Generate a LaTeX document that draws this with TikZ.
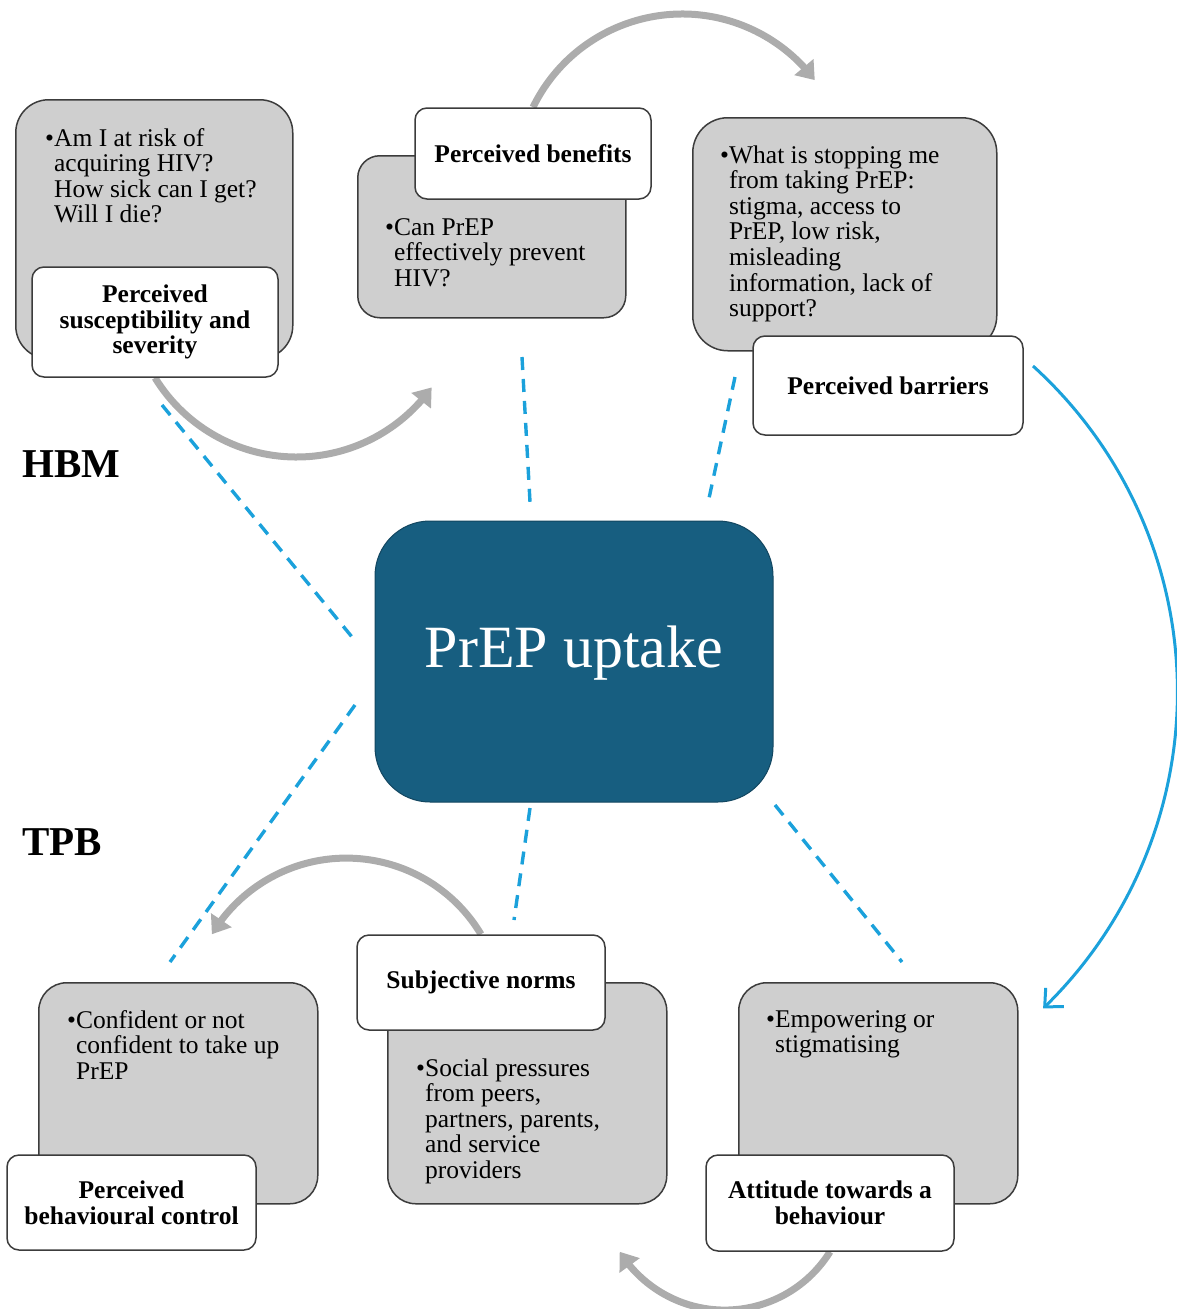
\documentclass[tikz,border=0pt]{standalone}
\usepackage{fontspec}
\setmainfont{Liberation Serif}
\usetikzlibrary{arrows.meta,bending,backgrounds}

\definecolor{boxgray}{RGB}{207,207,207}
\definecolor{edgegray}{RGB}{60,60,60}
\definecolor{hubblue}{RGB}{23,94,128}
\definecolor{hubedge}{RGB}{18,70,96}
\definecolor{linkblue}{RGB}{27,161,219}
\definecolor{flowgray}{RGB}{172,172,172}

% bullet item with hanging indent
\newcommand\bulletlines[1]{\begin{tabular}[t]{@{}l@{}l@{}}#1\end{tabular}}
\newcommand\bodysize{\fontsize{25.5}{25.6}\selectfont}

\begin{document}
\begin{tikzpicture}[x=1pt,y=1pt,
  panel/.style={draw=edgegray, line width=1.5pt, fill=boxgray,
    rounded corners=#1, inner sep=0pt, anchor=north west},
  tag/.style={draw=edgegray, line width=1.5pt, fill=white,
    rounded corners=12pt, inner sep=0pt, align=center,
    font=\bfseries\bodysize},
  itemtext/.style={anchor=base west, inner sep=0pt, font=\bodysize},
  heading/.style={anchor=base west, inner sep=0pt,
    font=\bfseries\fontsize{41}{41}\selectfont},
  spoke/.style={draw=linkblue, line width=3.4pt, dash pattern=on 13pt off 9pt},
  flow/.style={draw=flowgray, line width=7pt,
    -{Triangle[length=17pt,width=24pt,flex]}},
  cyclearrow/.style={draw=linkblue, line width=3pt,
    -{Straight Barb[length=14pt,width=26pt,line width=3pt,flex]}}
]
\useasboundingbox (0,0) rectangle (1176,-1309);

% ---------- central hub ----------
\node[draw=hubedge, line width=1pt, fill=hubblue, rounded corners=55pt,
  minimum width=398pt, minimum height=281pt, text depth=30pt,
  text=white, font=\fontsize{60}{60}\selectfont] (hub) at (574,-661.5) {PrEP uptake};

% ---------- HBM constructs ----------
\node[panel=33pt, minimum width=277pt, minimum height=259pt] (g1) at (15,-99) {};
\node[itemtext] (t1) at (45,-146) {\bulletlines{\textbullet & Am I at risk of\\
  & acquiring HIV?\\ & How sick can I get?\\ & Will I die?}};
\node[tag, minimum width=246pt, minimum height=110pt] (l1) at (155,-322)
  {Perceived\\susceptibility and\\severity};

\node[panel=22pt, minimum width=268pt, minimum height=162pt] (g2) at (357,-155) {};
\node[itemtext] (t2) at (385,-235) {\bulletlines{\textbullet & Can PrEP\\
  & effectively prevent\\ & HIV?}};
\node[tag, minimum width=236pt, minimum height=91pt] (l2) at (533,-153.5)
  {Perceived benefits};

\node[panel=35pt, minimum width=304pt, minimum height=233pt] (g3) at (692,-117) {};
\node[itemtext] (t3) at (720,-163) {\bulletlines{\textbullet & What is stopping me\\
  & from taking PrEP:\\ & stigma, access to\\ & PrEP, low risk,\\
  & misleading\\ & information, lack of\\ & support?}};
\node[tag, minimum width=270pt, minimum height=99pt] (l3) at (888,-385.5)
  {Perceived barriers};

% ---------- TPB constructs ----------
\node[panel=28pt, minimum width=279pt, minimum height=221pt] (g4) at (38,-982) {};
\node[itemtext] (t4) at (67,-1028) {\bulletlines{\textbullet & Confident or not\\
  & confident to take up\\ & PrEP}};
\node[tag, minimum width=249pt, minimum height=95pt] (l4) at (131.5,-1202.5)
  {Perceived\\behavioural control};

\node[panel=28pt, minimum width=279pt, minimum height=221pt] (g5) at (387,-982) {};
\node[itemtext] (t5) at (416,-1076) {\bulletlines{\textbullet & Social pressures\\
  & from peers,\\ & partners, parents,\\ & and service\\ & providers}};
\node[tag, minimum width=248pt, minimum height=95pt] (l5) at (481,-982.5)
  {Subjective norms};

\node[panel=28pt, minimum width=279pt, minimum height=221pt] (g6) at (738,-982) {};
\node[itemtext] (t6) at (766,-1027) {\bulletlines{\textbullet & Empowering or\\
  & stigmatising}};
\node[tag, minimum width=248pt, minimum height=96pt] (l6) at (830,-1203)
  {Attitude towards a\\behaviour};

% ---------- model headings ----------
\node[heading] (hbm) at (22,-477) {HBM};
\node[heading] (tpb) at (22,-855) {TPB};

% ---------- connectors ----------
\coordinate (s1a) at (162,-405);  \coordinate (s1b) at (352,-637);
\coordinate (s2a) at (522,-357);  \coordinate (s2b) at (530,-502);
\coordinate (s3a) at (735,-377);  \coordinate (s3b) at (708,-503);
\coordinate (s4a) at (355,-705);  \coordinate (s4b) at (170,-962);
\coordinate (s5a) at (530,-808);  \coordinate (s5b) at (514,-920);
\coordinate (s6a) at (775,-805);  \coordinate (s6b) at (902,-962);
\coordinate (cyc) at (1033,-366);

\begin{scope}[on background layer]
  \draw[spoke] (s1a) -- (s1b);
  \draw[spoke] (s2a) -- (s2b);
  \draw[spoke] (s3a) -- (s3b);
  \draw[spoke] (s4a) -- (s4b);
  \draw[spoke] (s5a) -- (s5b);
  \draw[spoke] (s6a) -- (s6b);

  \draw[flow] (l1.south) arc[start angle=211.5, end angle=324.5, radius=166];
  \draw[flow] (l2.north) arc[start angle=154, end angle=37, radius=166];
  \draw[flow] (l5.north) arc[start angle=31, end angle=149, radius=157];
  \draw[flow] (l6.south) arc[start angle=-32, end angle=-148, radius=124];

  \draw[cyclearrow] (cyc) arc[start angle=47.8, end angle=-46, radius=440];
\end{scope}
\end{tikzpicture}
\end{document}
